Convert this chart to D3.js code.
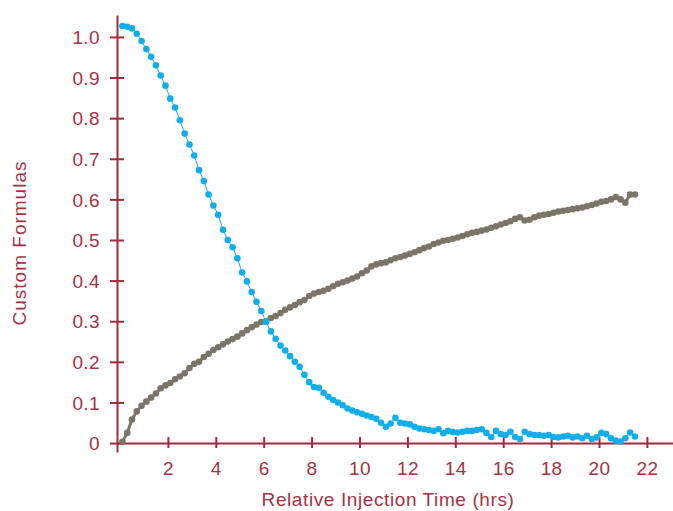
<!DOCTYPE html>
<html>
<head>
<meta charset="utf-8">
<script src="https://cdn.jsdelivr.net/npm/d3@7"></script>
<style>
  html, body { margin: 0; padding: 0; background: #fff; }
  svg { display: block; }
  text { font-family: "Liberation Sans", Arial, Helvetica, sans-serif; }
</style>
</head>
<body>
<svg id="chart" width="673" height="511"></svg>
<script>
// ---- data ----
const times = [
  0.1, 0.3, 0.5, 0.7, 0.9, 1.1, 1.3, 1.5, 1.7, 1.9,
  2.1, 2.3, 2.5, 2.7, 2.9, 3.1, 3.3, 3.5, 3.7, 3.9,
  4.1, 4.3, 4.5, 4.7, 4.9, 5.1, 5.3, 5.5, 5.7, 5.9,
  6.1, 6.3, 6.5, 6.7, 6.9, 7.1, 7.3, 7.5, 7.7, 7.9,
  8.1, 8.3, 8.5, 8.7, 8.9, 9.1, 9.3, 9.5, 9.7, 9.9,
  10.1, 10.3, 10.5, 10.7, 10.9, 11.1, 11.3, 11.5, 11.7, 11.9,
  12.1, 12.3, 12.5, 12.7, 12.9, 13.1, 13.3, 13.5, 13.7, 13.9,
  14.1, 14.3, 14.5, 14.7, 14.9, 15.1, 15.3, 15.5, 15.7, 15.9,
  16.1, 16.3, 16.5, 16.7, 16.9, 17.1, 17.3, 17.5, 17.7, 17.9,
  18.1, 18.3, 18.5, 18.7, 18.9, 19.1, 19.3, 19.5, 19.7, 19.9,
  20.1, 20.3, 20.5, 20.7, 20.9, 21.1, 21.3, 21.5
];
const blueValues = [
  1.027, 1.025, 1.021, 1.008, 0.990, 0.970, 0.951, 0.930, 0.905, 0.880,
  0.848, 0.826, 0.795, 0.762, 0.735, 0.708, 0.672, 0.645, 0.612, 0.585,
  0.562, 0.525, 0.500, 0.482, 0.455, 0.420, 0.398, 0.372, 0.348, 0.325,
  0.298, 0.275, 0.257, 0.240, 0.228, 0.214, 0.200, 0.188, 0.168, 0.150,
  0.138, 0.136, 0.124, 0.114, 0.106, 0.100, 0.093, 0.085, 0.080, 0.076,
  0.072, 0.068, 0.064, 0.060, 0.050, 0.040, 0.048, 0.062, 0.050, 0.048,
  0.046, 0.040, 0.036, 0.034, 0.032, 0.030, 0.034, 0.024, 0.030, 0.027,
  0.026, 0.028, 0.030, 0.030, 0.032, 0.034, 0.025, 0.015, 0.030, 0.022,
  0.020, 0.028, 0.015, 0.010, 0.028, 0.022, 0.020, 0.020, 0.018, 0.020,
  0.015, 0.014, 0.016, 0.018, 0.014, 0.016, 0.012, 0.018, 0.010, 0.014,
  0.025, 0.022, 0.012, 0.006, 0.004, 0.012, 0.026, 0.016
];
const greyValues = [
  0.003, 0.025, 0.058, 0.078, 0.092, 0.102, 0.112, 0.122, 0.135, 0.142,
  0.148, 0.157, 0.164, 0.172, 0.185, 0.195, 0.200, 0.212, 0.220, 0.229,
  0.236, 0.243, 0.250, 0.256, 0.262, 0.270, 0.278, 0.285, 0.292, 0.298,
  0.300, 0.308, 0.313, 0.320, 0.328, 0.334, 0.340, 0.347, 0.352, 0.362,
  0.368, 0.372, 0.375, 0.380, 0.386, 0.392, 0.396, 0.400, 0.405, 0.410,
  0.418, 0.425, 0.435, 0.440, 0.443, 0.445, 0.450, 0.455, 0.458, 0.462,
  0.466, 0.470, 0.475, 0.480, 0.484, 0.490, 0.494, 0.498, 0.500, 0.503,
  0.506, 0.510, 0.514, 0.518, 0.520, 0.523, 0.526, 0.530, 0.534, 0.538,
  0.542, 0.546, 0.552, 0.556, 0.548, 0.550, 0.556, 0.560, 0.562, 0.564,
  0.567, 0.570, 0.572, 0.574, 0.576, 0.578, 0.580, 0.583, 0.586, 0.590,
  0.594, 0.596, 0.600, 0.606, 0.600, 0.592, 0.612, 0.612
];
const xTicks = [2, 4, 6, 8, 10, 12, 14, 16, 18, 20, 22];
const yTicks = [0, 0.1, 0.2, 0.3, 0.4, 0.5, 0.6, 0.7, 0.8, 0.9, 1.0];
const yTickLabels = ["0", "0.1", "0.2", "0.3", "0.4", "0.5", "0.6", "0.7", "0.8", "0.9", "1.0"];
const xTitle = "Relative Injection Time (hrs)";
const yTitle = "Custom Formulas";

// ---- styling ----
const axisColor = "#a3283a";
const textColor = "#a8303f";
const blueColor = "#12aeea";
const greyColor = "#7b7468";

const svg = d3.select("#chart");

const x = d3.scaleLinear().domain([-0.125, 23.09]).range([117, 673]);
const y = d3.scaleLinear().domain([-0.022, 1.054]).range([452, 15]);

// ---- data series ----
function drawSeries(values, color, lineWidth) {
  const pts = times.map((t, i) => [t, values[i]]);
  svg.append("path")
    .datum(pts)
    .attr("fill", "none")
    .attr("stroke", color)
    .attr("stroke-width", lineWidth)
    .attr("stroke-linejoin", "round")
    .attr("d", d3.line().x(d => x(d[0])).y(d => y(d[1])));
  svg.append("g").selectAll("circle")
    .data(pts)
    .join("circle")
    .attr("cx", d => x(d[0]))
    .attr("cy", d => y(d[1]))
    .attr("r", 3.3)
    .attr("fill", color);
}

// ---- axes ----
const xAxis = d3.axisBottom(x).tickValues(xTicks).tickFormat(d3.format("d")).tickSizeOuter(0).tickSizeInner(6);
const gx = svg.append("g").attr("transform", `translate(0,${y(0)})`).call(xAxis);
gx.attr("font-family", null);
gx.select(".domain").attr("stroke", axisColor).attr("stroke-width", 2);
gx.selectAll(".tick line").attr("stroke", axisColor).attr("stroke-width", 2).attr("y1", -6).attr("y2", 5);
gx.selectAll(".tick text").attr("fill", textColor).attr("font-size", 19).attr("letter-spacing", 0.4)
  .attr("y", 0).attr("dy", 0).attr("transform", "translate(0,32)");

const yAxis = d3.axisLeft(y).tickValues(yTicks).tickFormat((d, i) => yTickLabels[i]).tickSizeOuter(0).tickSizeInner(7);
const gy = svg.append("g").attr("transform", `translate(${x(-0.125)},0)`).call(yAxis);
gy.attr("font-family", null);
gy.select(".domain").attr("stroke", axisColor).attr("stroke-width", 2);
gy.selectAll(".tick line").attr("stroke", axisColor).attr("stroke-width", 2).attr("x1", -7).attr("x2", 7);
gy.selectAll(".tick text").attr("fill", textColor).attr("font-size", 19).attr("letter-spacing", 0.4)
  .attr("x", -17).attr("dy", "0.35em");

drawSeries(greyValues, greyColor, 3);
drawSeries(blueValues, blueColor, 1);

// ---- titles ----
svg.append("text")
  .attr("x", 388)
  .attr("y", 506)
  .attr("text-anchor", "middle")
  .attr("fill", textColor)
  .attr("font-size", 19)
  .attr("letter-spacing", 0.6)
  .text(xTitle);

svg.append("text")
  .attr("transform", "translate(26,243) rotate(-90)")
  .attr("text-anchor", "middle")
  .attr("fill", textColor)
  .attr("font-size", 19)
  .attr("letter-spacing", 1)
  .text(yTitle);
</script>
</body>
</html>
